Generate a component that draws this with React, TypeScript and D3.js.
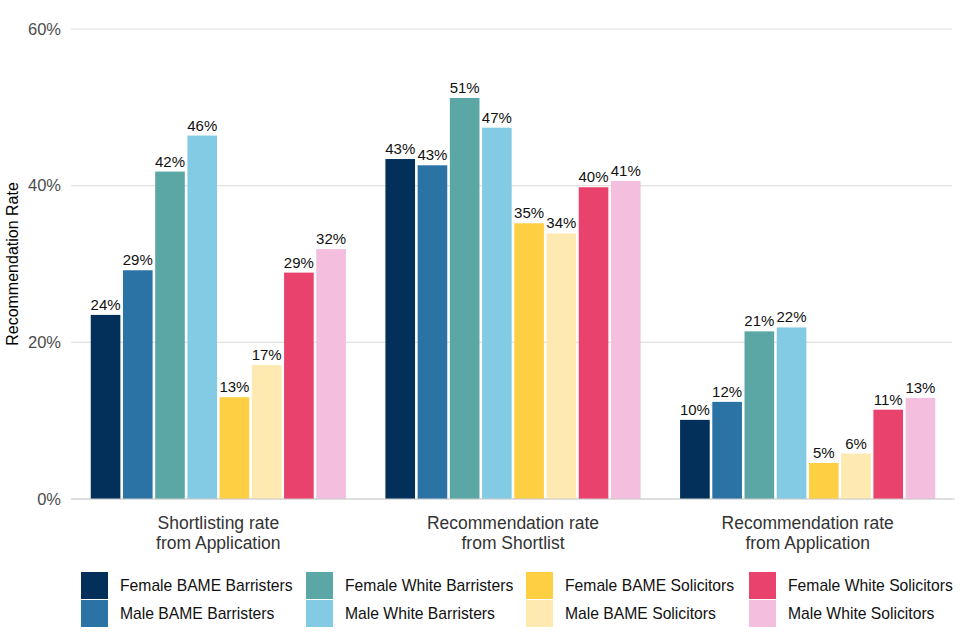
import * as d3 from 'd3'

const categories = [
  ['Shortlisting rate', 'from Application'],
  ['Recommendation rate', 'from Shortlist'],
  ['Recommendation rate', 'from Application'],
]

const seriesNames = [
  'Female BAME Barristers',
  'Male BAME Barristers',
  'Female White Barristers',
  'Male White Barristers',
  'Female BAME Solicitors',
  'Male BAME Solicitors',
  'Female White Solicitors',
  'Male White Solicitors',
]

const seriesColors = [
  '#02305a',
  '#2b72a5',
  '#5aa7a5',
  '#83cbe5',
  '#ffcf43',
  '#fee9b0',
  '#e9426d',
  '#f4bedf',
]

// one row per category, one value per series (%)
const values = [
  [23.5, 29.2, 41.8, 46.4, 13.0, 17.1, 28.9, 31.9],
  [43.4, 42.6, 51.2, 47.4, 35.2, 33.9, 39.8, 40.6],
  [10.1, 12.4, 21.4, 21.9, 4.6, 5.8, 11.4, 12.9],
]

const yTicks = [0, 20, 40, 60]

const W = 960
const H = 640
const margin = { top: 29, right: 5, bottom: 141, left: 71 }
const font = '"Liberation Sans", Arial, sans-serif'

// legend layout: 4 columns x 2 rows
const legendCols = [81, 306, 526, 749]
const legendRows = [572, 600]

export default function App() {
  const x0 = d3
    .scaleBand<number>()
    .domain(categories.map((_, i) => i))
    .range([margin.left, W - margin.right])
    .paddingInner(0.134)
    .paddingOuter(0.067)

  const x1 = d3
    .scaleBand<number>()
    .domain(seriesNames.map((_, i) => i))
    .range([0, x0.bandwidth()])
    .paddingInner(0.08)

  const y = d3
    .scaleLinear()
    .domain([0, 60])
    .range([H - margin.bottom, margin.top])

  return (
    <svg
      width={W}
      height={H}
      style={{ display: 'block', position: 'absolute', left: 0, top: 0 }}
      fontFamily={font}
    >
      <rect width={W} height={H} fill="#fff" />

      {yTicks.map(t => (
        <g key={t}>
          <line
            x1={margin.left}
            x2={W - margin.right - 3}
            y1={y(t)}
            y2={y(t)}
            stroke="#e0e0e0"
            strokeWidth={1.2}
          />
          <text
            x={61}
            y={y(t)}
            dy="0.35em"
            textAnchor="end"
            fontSize={16.5}
            fill="#4d4d4d"
          >
            {t}%
          </text>
        </g>
      ))}

      <text
        transform={`translate(18,${(y(0) + y(60)) / 2}) rotate(-90)`}
        textAnchor="middle"
        fontSize={16}
        fill="#000"
      >
        Recommendation Rate
      </text>

      {values.map((row, ci) => (
        <g key={ci} transform={`translate(${x0(ci)},0)`}>
          {row.map((v, si) => (
            <g key={si}>
              <rect
                x={x1(si)}
                y={y(v)}
                width={x1.bandwidth()}
                height={y(0) - y(v)}
                fill={seriesColors[si]}
              />
              <text
                x={(x1(si) ?? 0) + x1.bandwidth() / 2}
                y={y(v) - 5}
                textAnchor="middle"
                fontSize={15}
                fill="#111"
              >
                {Math.round(v)}%
              </text>
            </g>
          ))}
          {categories[ci].map((line, li) => (
            <text
              key={li}
              x={x0.bandwidth() / 2}
              y={529 + li * 19.5}
              textAnchor="middle"
              fontSize={17.5}
              fill="#333"
            >
              {line}
            </text>
          ))}
        </g>
      ))}

      <line
        x1={margin.left}
        x2={W - margin.right}
        y1={y(0)}
        y2={y(0)}
        stroke="#ccc"
        strokeWidth={1.2}
      />

      {seriesNames.map((name, i) => {
        const col = Math.floor(i / 2)
        const row = i % 2
        const lx = legendCols[col]
        const ly = legendRows[row]
        return (
          <g key={name}>
            <rect x={lx} y={ly} width={27} height={27} fill={seriesColors[i]} />
            <text
              x={lx + 39}
              y={ly + 14}
              dy="0.35em"
              fontSize={15.7}
              fill="#111"
            >
              {name}
            </text>
          </g>
        )
      })}
    </svg>
  )
}
